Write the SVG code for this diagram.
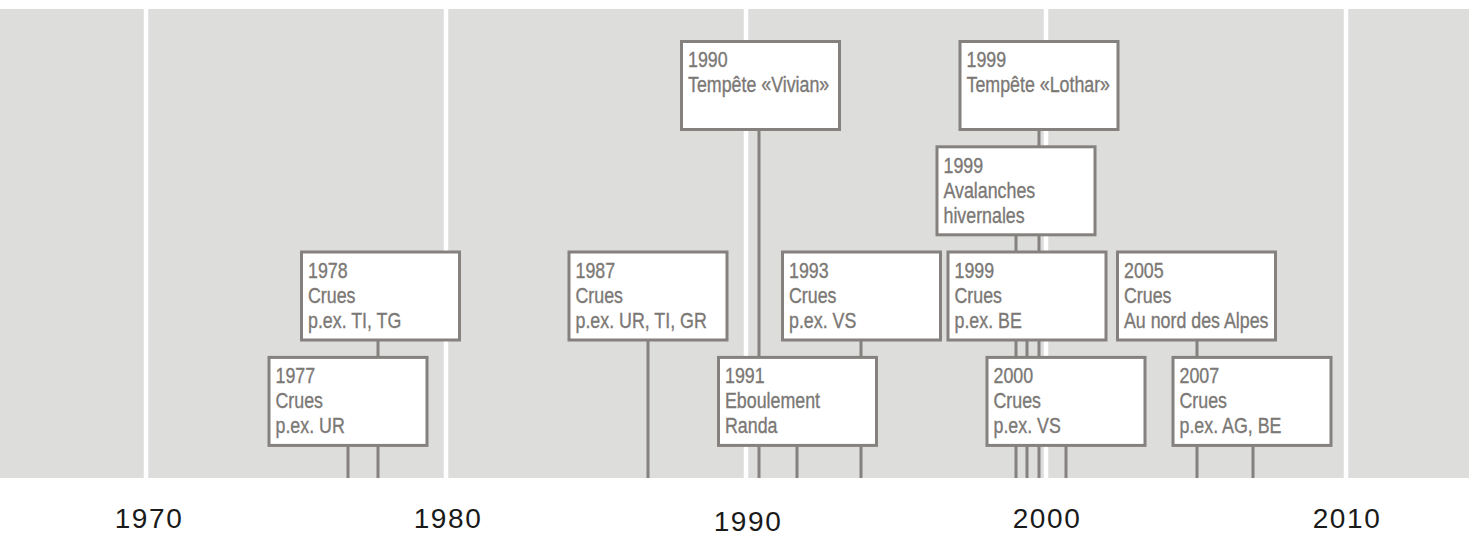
<svg xmlns="http://www.w3.org/2000/svg" width="1469" height="536" viewBox="0 0 1469 536">
<style>
.bg{fill:#dddddc}
.dec{stroke:#ffffff;stroke-width:4.5}
.con line{stroke:#85817e;stroke-width:3}
.box rect{fill:#ffffff;stroke:#85817e;stroke-width:3}
.box text{font-family:"Liberation Sans",Arial,sans-serif;font-size:22px;fill:#7b7875;stroke:#7b7875;stroke-width:0.35px}
.ax{font-family:"Liberation Sans",Arial,sans-serif;font-size:28px;fill:#1a1a1a;text-anchor:middle;letter-spacing:1.6px}
</style>
<rect class="bg" x="0" y="9" width="1469" height="469"/>
<g id="decades">
<line class="dec" x1="146" y1="9" x2="146" y2="478"/>
<line class="dec" x1="446" y1="9" x2="446" y2="478"/>
<line class="dec" x1="746" y1="9" x2="746" y2="478"/>
<line class="dec" x1="1046" y1="9" x2="1046" y2="478"/>
<line class="dec" x1="1346" y1="9" x2="1346" y2="478"/>
</g>
<g id="connectors" class="con">
<line x1="348" y1="445" x2="348" y2="478"/>
<line x1="378" y1="340" x2="378" y2="478"/>
<line x1="648" y1="340" x2="648" y2="478"/>
<line x1="759" y1="129" x2="759" y2="478"/>
<line x1="797" y1="445" x2="797" y2="478"/>
<line x1="861" y1="340" x2="861" y2="478"/>
<line x1="1039" y1="129" x2="1039" y2="478"/>
<line x1="1016" y1="234" x2="1016" y2="478"/>
<line x1="1027" y1="340" x2="1027" y2="478"/>
<line x1="1066" y1="445" x2="1066" y2="478"/>
<line x1="1197" y1="340" x2="1197" y2="478"/>
<line x1="1253" y1="445" x2="1253" y2="478"/>
</g>
<g id="n1978" class="box"><rect x="301.5" y="252" width="158" height="88"/><g transform="translate(308 252) scale(0.81 1)"><text y="26">1978</text><text y="50.9">Crues</text><text y="75.8">p.ex. TI, TG</text></g></g>
<g id="n1977" class="box"><rect x="269" y="357.4" width="158" height="88"/><g transform="translate(275.5 357.4) scale(0.81 1)"><text y="26">1977</text><text y="50.9">Crues</text><text y="75.8">p.ex. UR</text></g></g>
<g id="n1987" class="box"><rect x="569" y="252" width="158" height="88"/><g transform="translate(575.5 252) scale(0.81 1)"><text y="26">1987</text><text y="50.9">Crues</text><text y="75.8">p.ex. UR, TI, GR</text></g></g>
<g id="n1990" class="box"><rect x="681.5" y="41.5" width="158" height="88"/><g transform="translate(688 41.5) scale(0.81 1)"><text y="25.5">1990</text><text y="50.4">Tempête «Vivian»</text></g></g>
<g id="n1991" class="box"><rect x="718.5" y="357.4" width="158" height="88"/><g transform="translate(725 357.4) scale(0.81 1)"><text y="26">1991</text><text y="50.9">Eboulement</text><text y="75.8">Randa</text></g></g>
<g id="n1993" class="box"><rect x="782.5" y="252" width="158" height="88"/><g transform="translate(789 252) scale(0.81 1)"><text y="26">1993</text><text y="50.9">Crues</text><text y="75.8">p.ex. VS</text></g></g>
<g id="n1999L" class="box"><rect x="960" y="41.5" width="158" height="88"/><g transform="translate(966.5 41.5) scale(0.81 1)"><text y="25.5">1999</text><text y="50.4">Tempête «Lothar»</text></g></g>
<g id="n1999A" class="box"><rect x="937" y="146.8" width="158" height="88"/><g transform="translate(943.5 146.8) scale(0.81 1)"><text y="26">1999</text><text y="50.9">Avalanches</text><text y="75.8">hivernales</text></g></g>
<g id="n1999C" class="box"><rect x="948" y="252" width="158" height="88"/><g transform="translate(954.5 252) scale(0.81 1)"><text y="26">1999</text><text y="50.9">Crues</text><text y="75.8">p.ex. BE</text></g></g>
<g id="n2000" class="box"><rect x="987" y="357.4" width="158" height="88"/><g transform="translate(993.5 357.4) scale(0.81 1)"><text y="26">2000</text><text y="50.9">Crues</text><text y="75.8">p.ex. VS</text></g></g>
<g id="n2005" class="box"><rect x="1117.5" y="252" width="158" height="88"/><g transform="translate(1124 252) scale(0.81 1)"><text y="26">2005</text><text y="50.9">Crues</text><text y="75.8">Au nord des Alpes</text></g></g>
<g id="n2007" class="box"><rect x="1173" y="357.4" width="158" height="88"/><g transform="translate(1179.5 357.4) scale(0.81 1)"><text y="26">2007</text><text y="50.9">Crues</text><text y="75.8">p.ex. AG, BE</text></g></g>
<g id="axis">
<text class="ax" x="149" y="528">1970</text>
<text class="ax" x="448" y="528">1980</text>
<text class="ax" x="748" y="531">1990</text>
<text class="ax" x="1047" y="528">2000</text>
<text class="ax" x="1347" y="528">2010</text>
</g>
</svg>
